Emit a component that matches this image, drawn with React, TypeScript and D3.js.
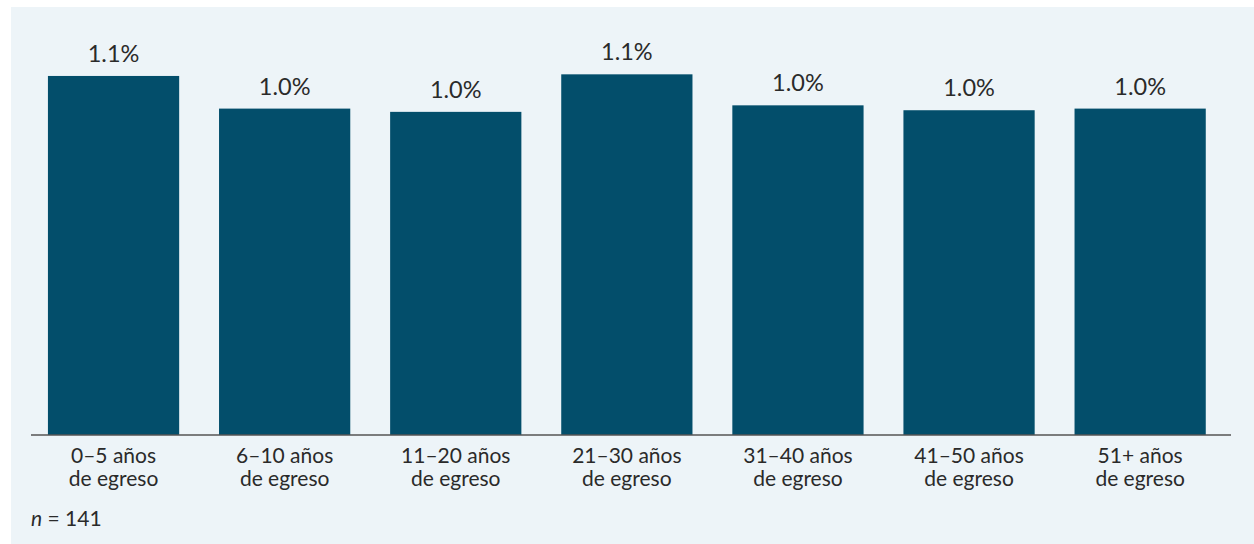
import React from "react";
import * as d3 from "d3";

const categories: string[][] = [
  ["0–5 años", "de egreso"],
  ["6–10 años", "de egreso"],
  ["11–20 años", "de egreso"],
  ["21–30 años", "de egreso"],
  ["31–40 años", "de egreso"],
  ["41–50 años", "de egreso"],
  ["51+ años", "de egreso"],
];
const values: number[] = [1.1, 1.0, 0.99, 1.105, 1.01, 0.995, 1.0];
const categoryKeys = categories.map((c) => c.join(" "));
const note = "141";

const W = 1254;
const H = 544;
const baseY = 435;
const pxPerUnit = 326.4;

export default function App() {
  const x = d3.scaleBand<string>().domain(categoryKeys).range([28, 1225.7]).paddingInner(0.233).paddingOuter(0.1165);
  const y = d3.scaleLinear().domain([0, 1.2]).range([baseY, baseY - 1.2 * pxPerUnit]);
  const font = "Lato, 'Open Sans', sans-serif";
  return (
    <svg width={W} height={H} style={{ position: "absolute", left: 0, top: 0 }} fontFamily={font}>
      <rect x={11} y={7} width={W - 11} height={H - 7} fill="#EDF4F8" />
      {values.map((v, i) => {
        const key = categoryKeys[i];
        const bx = x(key)!;
        const bw = x.bandwidth();
        return (
          <g key={key}>
            <rect x={bx} y={y(v)} width={bw} height={baseY - y(v)} fill="#034E6B" />
            <text x={bx + bw / 2} y={y(v) - 14} textAnchor="middle" fontSize={23.5} fill="#2a2a2a">
              {d3.format(".1f")(v)}%
            </text>
            {categories[i].map((line, j) => (
              <text key={j} x={bx + bw / 2} y={463 + j * 23} textAnchor="middle" fontSize={21} fill="#2a2a2a">
                {line}
              </text>
            ))}
          </g>
        );
      })}
      <line x1={31} x2={1231} y1={baseY} y2={baseY} stroke="#555" strokeWidth={1.5} />
      <text x={31} y={526} fontSize={21} fill="#2a2a2a">
        <tspan fontStyle="italic">n</tspan> = {note}
      </text>
    </svg>
  );
}
